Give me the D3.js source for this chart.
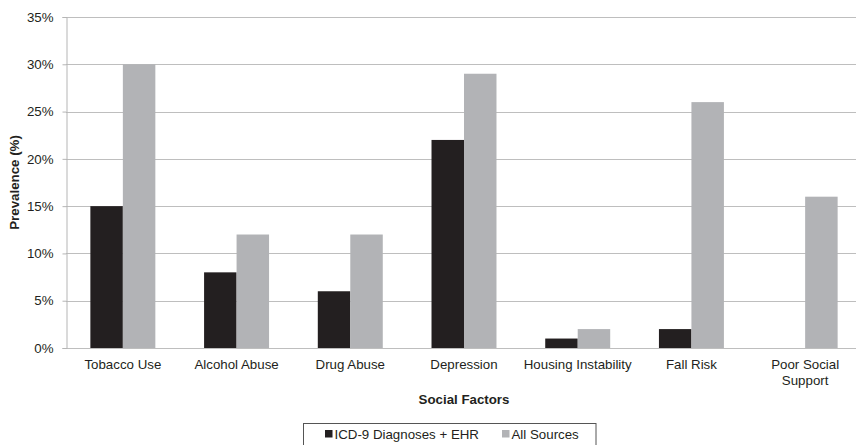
<!DOCTYPE html>
<html>
<head>
<meta charset="utf-8">
<script src="https://cdn.jsdelivr.net/npm/d3@7"></script>
<style>
  html, body { margin: 0; padding: 0; background: #fff; }
  svg { display: block; font-family: "Liberation Sans", Arial, sans-serif; }
</style>
</head>
<body>
<svg id="chart" width="856" height="445"></svg>
<script>
const categories = ["Tobacco Use", "Alcohol Abuse", "Drug Abuse", "Depression", "Housing Instability", "Fall Risk", "Poor Social Support"];
const seriesNames = ["ICD-9 Diagnoses + EHR", "All Sources"];
const icd9Values = [15, 8, 6, 22, 1, 2, 0];
const allSourcesValues = [30, 12, 12, 29, 2, 26, 16];
const yTicks = [0, 5, 10, 15, 20, 25, 30, 35];
const seriesColors = ["#231f20", "#b2b3b6"];

const svg = d3.select("#chart");
const textColor = "#231f20";
const fontSize = 13.3;

const plot = { left: 66, right: 862, top: 17, bottom: 348 };

const x = d3.scaleBand()
  .domain(categories)
  .range([plot.left, plot.right])
  .paddingInner(0.4286)
  .paddingOuter(0.2143);

const x1 = d3.scaleBand()
  .domain(seriesNames)
  .range([0, x.bandwidth()]);

const y = d3.scaleLinear()
  .domain([0, 35])
  .range([plot.bottom, plot.top]);

// Horizontal gridlines
svg.append("g")
  .selectAll("line")
  .data(yTicks)
  .join("line")
  .attr("x1", plot.left)
  .attr("x2", plot.right)
  .attr("y1", d => Math.round(y(d)) + 0.5)
  .attr("y2", d => Math.round(y(d)) + 0.5)
  .attr("stroke", "#bebebe")
  .attr("stroke-width", 1);

// Y axis
const yAxis = svg.append("g")
  .attr("transform", `translate(${plot.left + 0.5},0)`)
  .call(d3.axisLeft(y).tickValues(yTicks).tickFormat(d => d + "%").tickSize(4).tickPadding(9));
yAxis.select(".domain").attr("stroke", "#b5b5b5");
yAxis.selectAll(".tick line").attr("stroke", "#b5b5b5");
yAxis.selectAll(".tick text")
  .attr("fill", textColor)
  .style("font-size", fontSize + "px")
  .style("font-family", "'Liberation Sans', Arial, sans-serif");

// Bars
const rows = categories.map((c, i) => ({ category: c, values: [icd9Values[i], allSourcesValues[i]] }));
const groups = svg.append("g")
  .selectAll("g")
  .data(rows)
  .join("g")
  .attr("transform", d => `translate(${x(d.category)},0)`);

groups.selectAll("rect")
  .data(d => d.values.map((v, j) => ({ name: seriesNames[j], value: v, j })))
  .join("rect")
  .attr("x", d => x1(d.name))
  .attr("width", x1.bandwidth())
  .attr("y", d => y(d.value))
  .attr("height", d => y(0) - y(d.value))
  .attr("fill", d => seriesColors[d.j]);

// Category labels (wrapped where needed)
const xLabelLines = {
  "Poor Social Support": ["Poor Social", "Support"]
};
const xLabels = svg.append("g")
  .selectAll("text")
  .data(categories)
  .join("text")
  .attr("x", d => x(d) + x.bandwidth() / 2)
  .attr("y", 369)
  .attr("text-anchor", "middle")
  .attr("fill", textColor)
  .style("font-size", fontSize + "px");
xLabels.each(function (d) {
  const lines = xLabelLines[d] || [d];
  d3.select(this).selectAll("tspan")
    .data(lines)
    .join("tspan")
    .attr("x", x(d) + x.bandwidth() / 2)
    .attr("dy", (l, i) => i === 0 ? 0 : 16)
    .text(l => l);
});

// Axis titles
svg.append("text")
  .attr("x", 464)
  .attr("y", 404)
  .attr("text-anchor", "middle")
  .attr("fill", textColor)
  .style("font-size", fontSize + "px")
  .style("font-weight", "bold")
  .text("Social Factors");

svg.append("text")
  .attr("transform", `translate(19,${(plot.top + plot.bottom) / 2}) rotate(-90)`)
  .attr("text-anchor", "middle")
  .attr("fill", textColor)
  .style("font-size", fontSize + "px")
  .style("font-weight", "bold")
  .text("Prevalence (%)");

// Legend
const legend = svg.append("g");
legend.append("rect")
  .attr("x", 303.5)
  .attr("y", 423.5)
  .attr("width", 292.5)
  .attr("height", 30)
  .attr("fill", "#fff")
  .attr("stroke", "#555")
  .attr("stroke-width", 1);

const legendItems = [
  { name: seriesNames[0], color: seriesColors[0], x: 325 },
  { name: seriesNames[1], color: seriesColors[1], x: 502 }
];
const li = legend.selectAll("g.item")
  .data(legendItems)
  .join("g")
  .attr("class", "item")
  .attr("transform", d => `translate(${d.x},0)`);
li.append("rect")
  .attr("x", 0)
  .attr("y", 430)
  .attr("width", 7.5)
  .attr("height", 7.5)
  .attr("fill", d => d.color);
li.append("text")
  .attr("x", 9.5)
  .attr("y", 438.5)
  .attr("fill", textColor)
  .style("font-size", fontSize + "px")
  .text(d => d.name);
</script>
</body>
</html>
